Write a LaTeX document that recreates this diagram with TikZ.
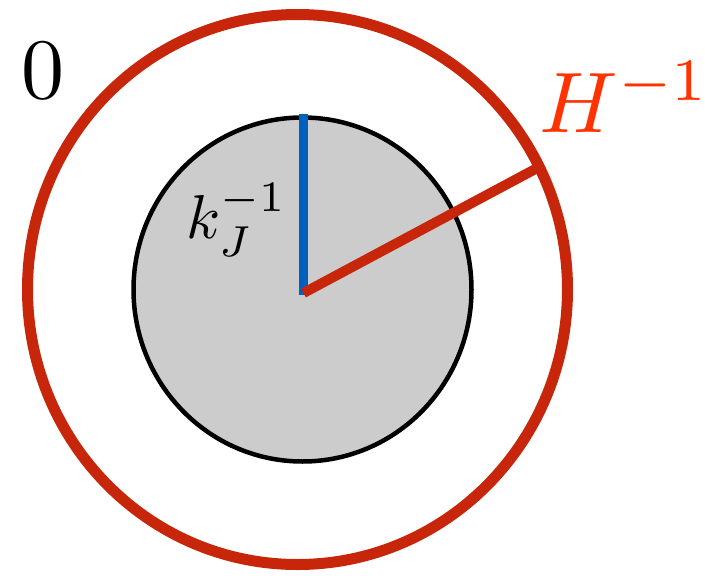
\documentclass[tikz,border=0pt]{standalone}
\definecolor{outerred}{RGB}{200,38,10}
\definecolor{hred}{RGB}{255,51,0}
\definecolor{radblue}{RGB}{0,96,192}
\definecolor{ingray}{RGB}{204,204,204}
\tikzset{
  bigtext/.style={inner sep=0pt, scale=8.6},
  midtext/.style={inner sep=0pt, scale=6.2},
}
\begin{document}
\begin{tikzpicture}[x=1pt,y=-1pt]
\useasboundingbox (0,0) rectangle (705,576);
\coordinate (oc) at (297.5,289.5);
\coordinate (icc) at (302.5,289.5);
\coordinate (ic) at (303.5,293);
\draw[line width=11pt, outerred] (oc) circle [x radius=270, y radius=275];
\draw[line width=4.5pt, black, fill=ingray] (icc) circle [x radius=169, y radius=172];
\coordinate (bbot) at (303.5,295);
\coordinate (btop) at (303.5,114);
\coordinate (rend) at (541,166);
\draw[line width=8.5pt, radblue] (bbot) -- (btop);
\draw[line width=10pt, outerred] (ic) -- (rend);
\node[bigtext, anchor=base west] (zero) at (20,98) {$0$};
\node[bigtext, anchor=base west, text=hred] (hinv) at (538,132) {$H^{-1}$};
\node[midtext, anchor=base west] (kinv) at (185,238) {$k_J^{-1}$};
\end{tikzpicture}
\end{document}
